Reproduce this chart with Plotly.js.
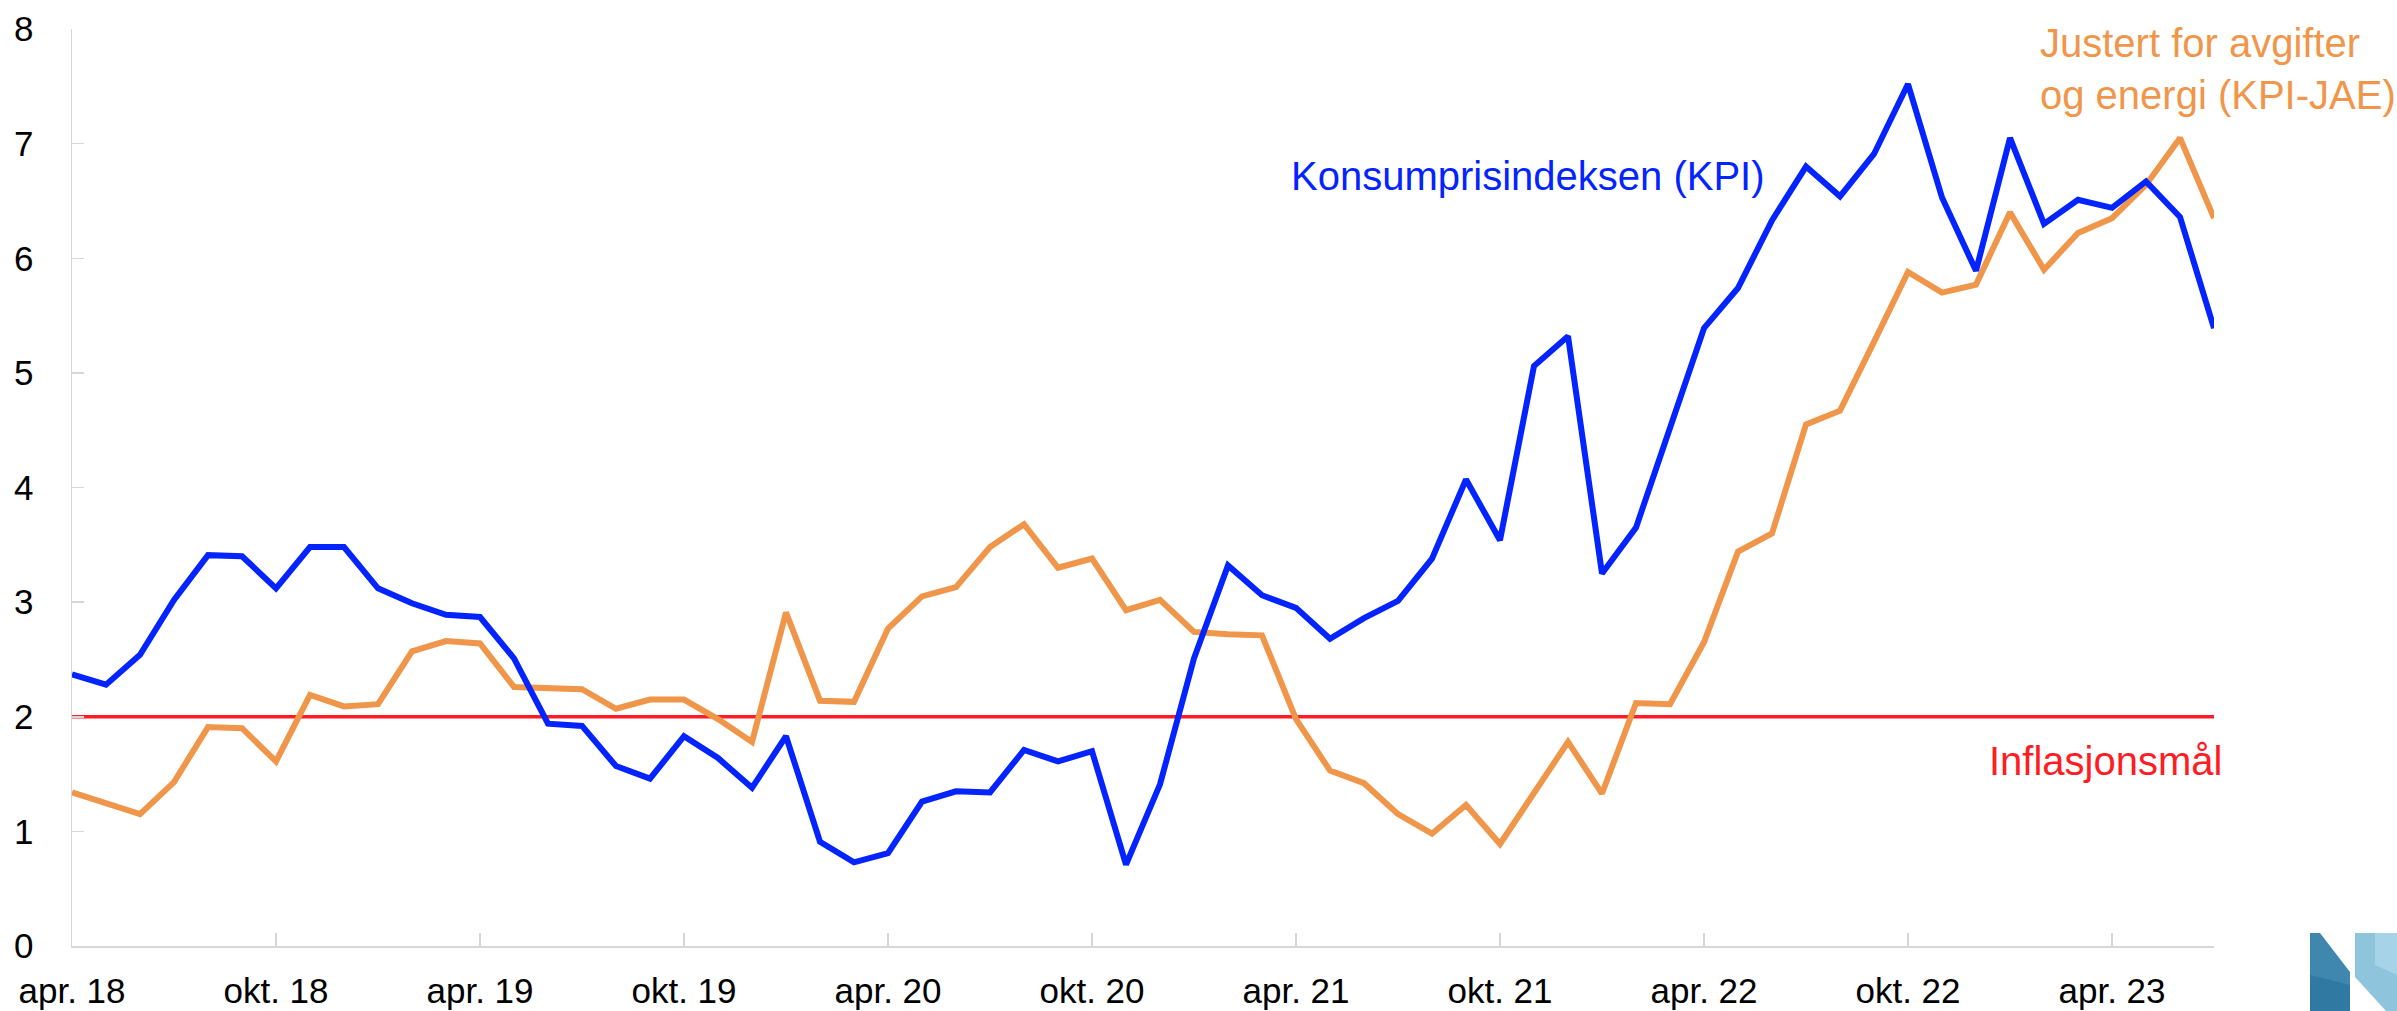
<!DOCTYPE html>
<html>
<head>
<meta charset="utf-8">
<script src="https://cdn.plot.ly/plotly-3.0.1.min.js"></script>
<style>
  html, body { margin: 0; padding: 0; background: #ffffff; }
  #chart { width: 2397px; height: 1011px; }
</style>
</head>
<body>
<div id="chart"></div>
<script>
// ---- Data (monthly, apr. 2018 – jul. 2023), 12-month change in percent ----
const monthNames = ["jan.", "feb.", "mars", "apr.", "mai", "juni", "juli", "aug.", "sep.", "okt.", "nov.", "des."];
const startYear = 2018, startMonth = 3, nMonths = 64;

const kpi = [
  2.37, 2.28, 2.54, 3.02, 3.41, 3.40, 3.12, 3.48, 3.48, 3.12, 2.99, 2.89,
  2.87, 2.51, 1.94, 1.92, 1.57, 1.46, 1.83, 1.64, 1.38, 1.83, 0.91, 0.73,
  0.81, 1.26, 1.35, 1.34, 1.71, 1.61, 1.70, 0.71, 1.41, 2.51, 3.32, 3.06,
  2.95, 2.68, 2.86, 3.01, 3.38, 4.07, 3.54, 5.06, 5.32, 3.25, 3.65, 4.52,
  5.39, 5.74, 6.33, 6.80, 6.54, 6.91, 7.52, 6.53, 5.89, 7.05, 6.30, 6.51,
  6.44, 6.67, 6.36, 5.39
];

const kpiJae = [
  1.34, 1.24, 1.15, 1.43, 1.91, 1.90, 1.61, 2.19, 2.09, 2.11, 2.57, 2.66,
  2.64, 2.26, 2.25, 2.24, 2.07, 2.15, 2.15, 1.98, 1.78, 2.91, 2.14, 2.13,
  2.77, 3.05, 3.13, 3.48, 3.68, 3.30, 3.38, 2.93, 3.02, 2.74, 2.72, 2.71,
  1.98, 1.53, 1.42, 1.15, 0.98, 1.23, 0.89, 1.33, 1.78, 1.33, 2.12, 2.11,
  2.65, 3.44, 3.60, 4.55, 4.67, 5.27, 5.88, 5.70, 5.77, 6.40, 5.90, 6.22,
  6.35, 6.64, 7.05, 6.35
];

const inflationTarget = 2;

const tickEvery = 6;
const yTickVals = [0, 1, 2, 3, 4, 5, 6, 7, 8];

const labelKpi = "Konsumprisindeksen (KPI)";
const labelJae = "Justert for avgifter<br>og energi (KPI-JAE)";
const labelTarget = "Inflasjonsmål";

// ---- Categories ----
const months = [];
for (let i = 0; i < nMonths; i++) {
  const m = (startMonth + i) % 12;
  const y = startYear + Math.floor((startMonth + i) / 12);
  months.push(monthNames[m] + " " + String(y).slice(2));
}
const xIdx = months.map((_, i) => i);
const tickVals = xIdx.filter(i => i % tickEvery === 0);
const tickText = tickVals.map(i => months[i]);

// ---- Layout helpers (pixel -> paper) ----
const W = 2397, H = 1011;
const M = { l: 72, r: 183, t: 29, b: 65 };
const PW = W - M.l - M.r, PH = H - M.t - M.b;
const px = x => (x - M.l) / PW;
const py = y => (H - M.b - y) / PH;
function poly(pts) {
  return "M " + pts.map(p => px(p[0]).toFixed(5) + "," + py(p[1]).toFixed(5)).join(" L ") + " Z";
}

const BLUE = "#0424ff";
const ORANGE = "#f0964b";
const RED = "#ff1c24";
const FONT = "Liberation Sans, Arial, sans-serif";

const traces = [
  {
    x: xIdx, y: xIdx.map(() => inflationTarget), type: "scatter", mode: "lines",
    line: { color: RED, width: 3.5 }, hoverinfo: "skip", name: labelTarget
  },
  {
    x: xIdx, y: kpiJae, type: "scatter", mode: "lines",
    line: { color: ORANGE, width: 6 }, name: "KPI-JAE"
  },
  {
    x: xIdx, y: kpi, type: "scatter", mode: "lines",
    line: { color: BLUE, width: 6 }, name: "KPI"
  }
];

const layout = {
  width: W, height: H,
  margin: M,
  paper_bgcolor: "#ffffff", plot_bgcolor: "#ffffff",
  showlegend: false,
  font: { family: FONT, color: "#000000" },
  xaxis: {
    range: [0, nMonths - 1],
    tickmode: "array", tickvals: tickVals, ticktext: tickText,
    showgrid: false, zeroline: false,
    showline: true, linecolor: "#d6d6d6", linewidth: 1.5,
    ticks: "inside", ticklen: 13, tickcolor: "#d6d6d6", tickwidth: 1.5,
    tickfont: { family: FONT, size: 35, color: "#000000" },
    ticklabelstandoff: 13
  },
  yaxis: {
    range: [0, 8],
    tickmode: "array", tickvals: yTickVals,
    showgrid: false, zeroline: false,
    showline: true, linecolor: "#d6d6d6", linewidth: 1.5,
    ticks: "inside", ticklen: 12, tickcolor: "#d6d6d6", tickwidth: 1.5,
    tickfont: { family: FONT, size: 35, color: "#000000" },
    ticklabelstandoff: 30
  },
  annotations: [
    {
      xref: "paper", yref: "paper", x: px(1289), y: py(176),
      xanchor: "left", yanchor: "middle", showarrow: false,
      text: labelKpi, font: { family: FONT, size: 40, color: BLUE }
    },
    {
      xref: "paper", yref: "paper", x: px(2038), y: py(69),
      xanchor: "left", yanchor: "middle", align: "left", showarrow: false,
      text: labelJae, font: { family: FONT, size: 40, color: ORANGE }
    },
    {
      xref: "paper", yref: "paper", x: px(2224), y: py(761),
      xanchor: "right", yanchor: "middle", showarrow: false,
      text: labelTarget, font: { family: FONT, size: 40, color: RED }
    }
  ],
  shapes: [
    {
      type: "path", xref: "paper", yref: "paper", layer: "above",
      path: poly([[2310, 1011], [2310, 933], [2320, 933], [2350, 972], [2350, 1011]]),
      fillcolor: "#3f87ae", line: { width: 0 }
    },
    {
      type: "path", xref: "paper", yref: "paper", layer: "above",
      path: poly([[2310, 1011], [2310, 975], [2350, 985], [2350, 1011]]),
      fillcolor: "#2f79a2", line: { width: 0 }
    },
    {
      type: "path", xref: "paper", yref: "paper", layer: "above",
      path: poly([[2355, 933], [2397, 933], [2397, 1011], [2386, 1011], [2355, 977]]),
      fillcolor: "#8fc4dd", line: { width: 0 }
    },
    {
      type: "path", xref: "paper", yref: "paper", layer: "above",
      path: poly([[2375, 933], [2397, 933], [2397, 975], [2375, 965]]),
      fillcolor: "#a6d3e7", line: { width: 0 }
    }
  ]
};

Plotly.newPlot("chart", traces, layout, { displayModeBar: false, staticPlot: true });
</script>
</body>
</html>
